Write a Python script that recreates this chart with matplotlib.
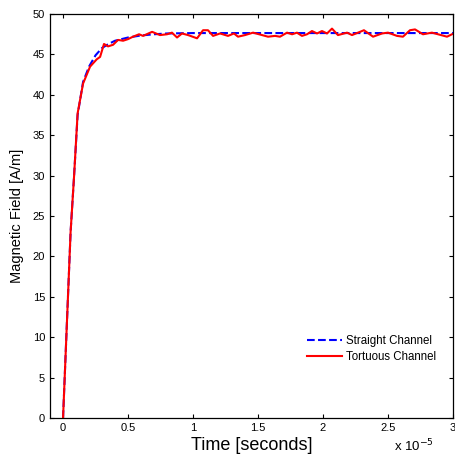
import matplotlib
matplotlib.use('Agg')
import matplotlib.pyplot as plt

plt.rcParams['font.family'] = ['Liberation Sans', 'DejaVu Sans']

# time in units of 1e-5 s
t_straight = [0, 0.058, 0.085, 0.112, 0.154, 0.2, 0.25, 0.3, 0.35, 0.4, 0.5, 0.6,
              0.7, 0.8, 1.0, 3.0]
h_straight = [0, 23, 30, 37.5, 41.6, 43.5, 44.9, 45.8, 46.3, 46.7, 47.1, 47.35,
              47.5, 47.6, 47.65, 47.65]

t_tortuous = [0, 0.058, 0.085, 0.112, 0.154, 0.208, 0.259, 0.285, 0.315, 0.346,
              0.385, 0.423, 0.462, 0.5, 0.538, 0.585, 0.615, 0.685, 0.746, 0.8,
              0.838, 0.877, 0.915, 0.962, 1.031, 1.077, 1.115, 1.154, 1.208,
              1.269, 1.315, 1.346, 1.4, 1.462, 1.531, 1.577, 1.631, 1.669, 1.723,
              1.762, 1.8, 1.838, 1.877, 1.915, 1.954, 1.992, 2.031, 2.069, 2.115,
              2.185, 2.223, 2.269, 2.315, 2.385, 2.454, 2.5, 2.569, 2.615, 2.669,
              2.708, 2.769, 2.838, 2.885, 2.954, 2.992]
h_tortuous = [0, 23, 30, 37.7, 41.4, 43.5, 44.4, 44.7, 46.3, 46.0,
              46.2, 46.8, 46.7, 46.9, 47.2, 47.5, 47.3, 47.8, 47.4, 47.5,
              47.7, 47.1, 47.6, 47.4, 47.0, 48.0, 48.0, 47.3, 47.6,
              47.3, 47.6, 47.2, 47.4, 47.7, 47.4, 47.2, 47.3, 47.2, 47.7,
              47.5, 47.7, 47.3, 47.5, 47.9, 47.6, 47.9, 47.6, 48.2, 47.4,
              47.7, 47.4, 47.7, 48.0, 47.2, 47.6, 47.7, 47.3, 47.2, 48.0,
              48.1, 47.5, 47.7, 47.5, 47.2, 47.5]

fig = plt.figure(figsize=(4.55, 4.54), dpi=100)
ax = fig.add_axes([0.11, 0.0793, 0.8856, 0.8897])

ax.plot(t_straight, h_straight, '--', color='#0000ff', lw=1.5, label='Straight Channel')
ax.plot(t_tortuous, h_tortuous, '-', color='#ff0000', lw=1.5, label='Tortuous Channel')

ax.set_xlim(-0.1, 3)
ax.set_ylim(0, 50)
ax.set_xticks([0, 0.5, 1, 1.5, 2, 2.5, 3])
ax.set_xticklabels(['0', '0.5', '1', '1.5', '2', '2.5', '3'])
ax.set_yticks(range(0, 51, 5))
ax.tick_params(direction='in', top=True, right=True, length=3, labelsize=8, width=0.8)
for s in ax.spines.values():
    s.set_linewidth(0.9)

ax.set_xlabel('Time [seconds]', fontsize=13, labelpad=3)
ax.set_ylabel('Magnetic Field [A/m]', fontsize=10.5, labelpad=6)
fig.text(0.865, 0.005, 'x 10$^{-5}$', fontsize=9.5)

ax.legend(loc='lower right', bbox_to_anchor=(0.985, 0.11), frameon=False,
          fontsize=8.3, handlelength=3, labelspacing=0.35, handletextpad=0.4)

fig.savefig('out.png', dpi=100)
